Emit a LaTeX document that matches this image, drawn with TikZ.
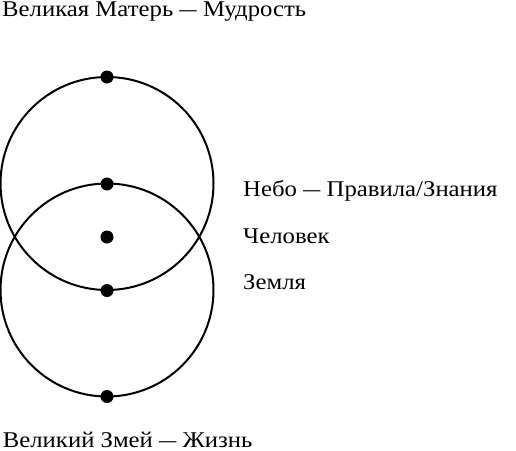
\documentclass[tikz,border=0pt]{standalone}
\usepackage{fontspec}
\setmainfont{Liberation Serif}
\newfontfamily\widefont[FakeStretch=1.1]{Liberation Serif}
\newcommand{\shortdash}{\scalebox{0.7}[1]{—}}
\begin{document}
\begin{tikzpicture}[x=1pt,y=-1pt,
  ring/.style={draw=black,line width=2pt},
  dot/.style={circle,fill=black,inner sep=0pt,minimum size=13pt},
  lbl/.style={anchor=base west,inner sep=0pt,font=\widefont\fontsize{22.5}{27}\selectfont}]
\useasboundingbox (0,0) rectangle (516,450);
\coordinate (c1) at (107,183.5);
\coordinate (c2) at (107,290);
\draw[ring] (c1) circle[radius=106.5];
\draw[ring] (c2) circle[radius=106.5];
\node[dot] (d1) at (107,77) {};
\node[dot] (d2) at (107,184) {};
\node[dot] (d3) at (107,237) {};
\node[dot] (d4) at (107,290.5) {};
\node[dot] (d5) at (107,396.5) {};
\node[lbl] (t1) at (2,16.7) {Великая Матерь \shortdash{} Мудрость};
\node[lbl] (t2) at (243,196.7) {Небо \shortdash{} Правила/Знания};
\node[lbl] (t3) at (243,243.3) {Человек};
\node[lbl] (t4) at (243,289) {Земля};
\node[lbl] (t5) at (2.7,447) {Великий Змей \shortdash{} Жизнь};
\end{tikzpicture}
\end{document}
